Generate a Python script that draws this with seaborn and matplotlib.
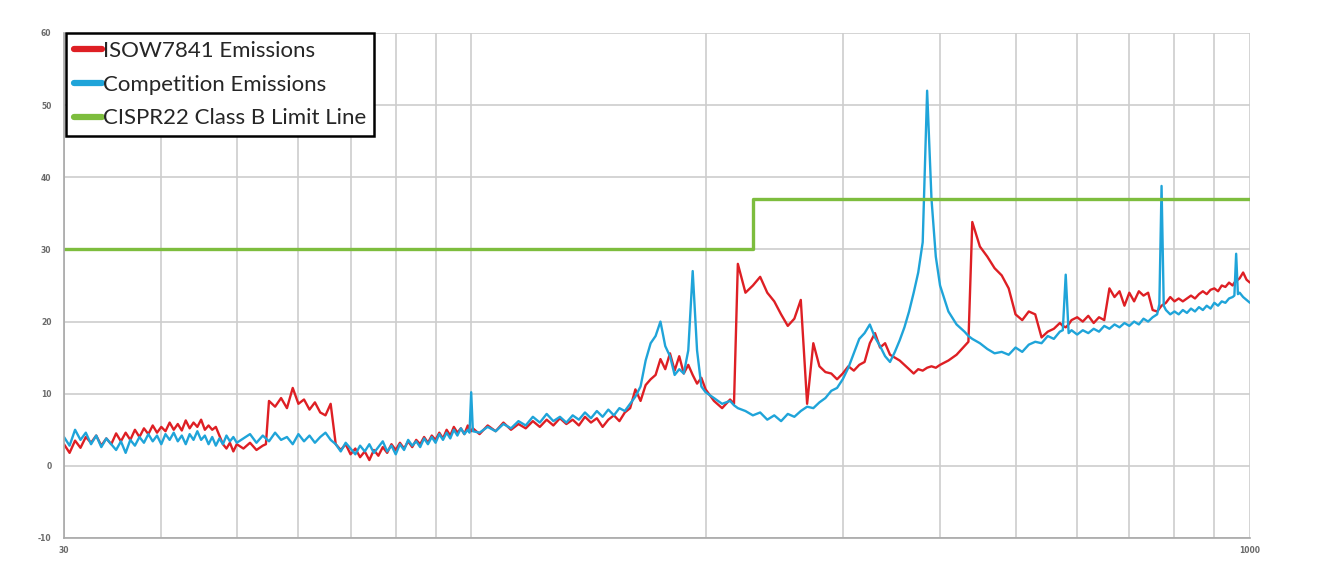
import pandas as pd
import matplotlib
matplotlib.use('Agg')
import matplotlib.pyplot as plt
import seaborn as sns
from matplotlib.ticker import FixedLocator, NullLocator

# --- Data (frequency in MHz, level in dB) ---
FREQ_MHZ = [
    30, 30.5, 31, 31.5, 32, 32.5, 33, 33.5, 34, 34.5, 35, 35.5, 36, 36.5, 37, 37.5,
    38, 38.5, 39, 39.5, 40, 40.5, 41, 41.5, 42, 42.5, 43, 43.5, 44, 44.5, 45, 45.5,
    46, 46.5, 47, 47.5, 48, 48.5, 49, 49.5, 50,
    51, 52, 53, 54, 54.5, 55, 56, 57, 58, 59, 60, 61, 62, 63, 64, 65, 66, 67, 68, 69,
    70, 71, 72, 73, 74, 75, 76, 77, 78, 79, 80, 81, 82, 83, 84, 85, 86, 87, 88, 89,
    90, 91, 92, 93, 94, 95, 96, 97, 98, 99, 99.5, 100, 100.5,
    102.5, 105, 107.5, 110, 112.5, 115, 117.5, 120, 122.5, 125, 127.5, 130, 132.5,
    135, 137.5, 140, 142.5, 145, 147.5, 150, 152.5, 155, 157.5, 160, 162.5, 165,
    167.5, 170, 172.5, 175, 177.5, 180, 182.5, 185, 187.5, 190, 192.5, 195, 197.5, 200,
    205, 210, 215, 217.5, 220, 225, 230, 235, 240, 245, 250, 255, 260, 265, 270, 275,
    280, 285, 290, 295, 300, 305, 310, 315, 320, 325, 330, 335, 340, 345, 350, 355,
    360, 365, 370, 375, 380, 385, 390, 395, 400,
    410, 420, 430, 435, 440, 450, 460, 470, 480, 490, 500, 510, 520, 530, 540, 550,
    560, 570, 575, 580, 585, 590, 600, 610, 620, 630, 640, 650, 660, 670, 680, 690,
    700, 710, 720, 730, 740, 750, 760, 765, 770, 775, 780, 790, 800, 810, 820, 830,
    840, 850, 860, 870, 880, 890, 900, 910, 920, 930, 940, 950, 955, 960, 965, 970,
    980, 990, 1000,
]

ISOW_DB = [
    3.0, 1.8, 3.5, 2.5, 4.0, 3.2, 4.2, 2.8, 3.8, 3.0, 4.5, 3.4, 4.6, 3.6, 5.0, 4.0,
    5.2, 4.4, 5.6, 4.6, 5.4, 4.8, 6.0, 5.0, 5.8, 4.9, 6.3, 5.2, 6.0, 5.4, 6.4, 5.0,
    5.6, 5.0, 5.4, 4.2, 3.0, 2.4, 3.2, 2.0, 3.0,
    2.4, 3.2, 2.2, 2.8, 3.0, 9.0, 8.2, 9.4, 8.0, 10.8, 8.6, 9.2, 7.8, 8.8, 7.4, 7.0,
    8.6, 3.0, 2.2, 3.0, 1.6, 2.4, 1.2, 2.0, 0.8, 2.2, 1.4, 2.6, 1.8, 3.0, 2.2, 3.2,
    2.4, 3.4, 2.6, 3.6, 3.0, 4.0, 3.2, 4.2, 3.6, 4.6, 3.8, 5.0, 4.2, 5.4, 4.6, 5.2,
    4.4, 5.6, 5.0, 4.8, 5.2,
    4.4, 5.6, 4.8, 6.0, 5.0, 5.8, 5.2, 6.2, 5.4, 6.4, 5.6, 6.6, 5.8, 6.4, 5.6, 6.8,
    6.0, 6.6, 5.4, 6.4, 7.0, 6.2, 7.4, 8.0, 10.6, 9.0, 11.2, 12.0, 12.6, 14.8, 13.4,
    15.6, 13.2, 15.2, 12.8, 14.0, 12.6, 11.4, 12.2, 10.6,
    9.0, 8.0, 9.2, 8.6, 28.0, 24.0, 25.0, 26.2, 24.0, 22.8, 21.0, 19.4, 20.4, 23.0,
    8.6, 17.0, 13.8, 13.0, 12.8, 12.0, 12.8, 13.8, 13.2, 14.0, 14.4, 17.0, 18.4, 16.4,
    17.0, 15.4, 15.0, 14.6, 14.0, 13.4, 12.8, 13.4, 13.2, 13.6, 13.8, 13.6, 14.0,
    14.6, 15.4, 16.6, 17.2, 33.8, 30.4, 29.0, 27.4, 26.4, 24.6, 21.0, 20.2, 21.4, 21.0,
    17.8, 18.6, 19.0, 19.8, 19.4, 19.2, 19.6, 20.2, 20.6, 20.0, 20.8, 19.8, 20.6, 20.2,
    24.6, 23.4, 24.2, 22.2, 24.0, 22.8, 24.2, 23.6, 24.0, 21.6, 21.4, 21.8, 22.2, 22.4,
    22.6, 23.4, 22.8, 23.2, 22.8, 23.2, 23.6, 23.2, 23.8, 24.2, 23.8, 24.4, 24.6, 24.2,
    25.0, 24.8, 25.4, 25.0, 25.4, 25.6, 25.8, 26.0, 26.8, 25.8, 25.4,
]

COMP_DB = [
    4.0, 2.8, 5.0, 3.6, 4.6, 3.0, 4.2, 2.6, 3.8, 3.0, 2.2, 3.4, 1.8, 3.6, 2.8, 4.0,
    3.2, 4.4, 3.4, 4.2, 3.0, 4.4, 3.6, 4.6, 3.4, 4.2, 3.0, 4.4, 3.6, 4.8, 3.6, 4.2,
    3.0, 4.0, 2.8, 3.8, 3.0, 4.2, 3.4, 4.0, 3.2,
    3.8, 4.4, 3.2, 4.2, 3.8, 3.4, 4.6, 3.6, 4.0, 3.0, 4.4, 3.4, 4.2, 3.2, 4.0, 4.6,
    3.6, 3.0, 2.0, 3.2, 2.4, 1.6, 2.8, 2.0, 3.0, 1.8, 2.6, 3.4, 2.0, 2.8, 1.6, 3.0,
    2.2, 3.6, 2.8, 3.4, 2.6, 3.8, 3.0, 4.0, 3.2, 4.4, 3.6, 4.6, 3.8, 5.0, 4.2, 5.2,
    4.4, 5.0, 4.6, 10.2, 4.8,
    4.6, 5.4, 4.8, 5.8, 5.2, 6.2, 5.6, 6.8, 6.0, 7.2, 6.2, 6.8, 6.0, 7.0, 6.4, 7.4,
    6.6, 7.6, 6.8, 7.8, 7.0, 8.0, 7.6, 8.6, 9.6, 11.0, 14.6, 17.0, 18.0, 20.0, 16.6,
    15.2, 12.6, 13.4, 12.8, 16.0, 27.0, 16.0, 11.0, 10.2,
    9.4, 8.6, 9.0, 8.4, 8.0, 7.6, 7.0, 7.4, 6.4, 7.0, 6.2, 7.2, 6.8, 7.6, 8.2, 8.0,
    8.8, 9.4, 10.4, 10.8, 12.0, 13.6, 15.6, 17.6, 18.4, 19.6, 17.8, 16.6, 15.2, 14.4,
    15.8, 17.4, 19.2, 21.4, 24.0, 26.8, 31.0, 52.0, 37.0, 29.0, 25.0,
    21.4, 19.6, 18.6, 18.0, 17.6, 17.0, 16.2, 15.6, 15.8, 15.4, 16.4, 15.8, 16.8, 17.2,
    17.0, 18.0, 17.6, 18.6, 18.8, 26.5, 18.4, 18.8, 18.2, 18.8, 18.4, 19.0, 18.6, 19.4,
    19.0, 19.6, 19.2, 19.8, 19.4, 20.0, 19.6, 20.4, 20.0, 20.6, 21.0, 22.4, 38.8, 22.2,
    21.6, 21.0, 21.4, 21.0, 21.6, 21.2, 21.8, 21.4, 22.0, 21.6, 22.2, 21.8, 22.6, 22.2,
    22.8, 22.6, 23.2, 23.4, 23.6, 29.4, 23.8, 24.0, 23.4, 23.0, 22.6,
]

LIMIT_FREQ = [30, 230, 230, 1000]
LIMIT_DB = [30, 30, 37, 37]

Y_TICKS = [-10, 0, 10, 20, 30, 40, 50, 60]
X_GRID = [30, 40, 50, 60, 70, 80, 90, 100, 200, 300, 400, 500, 600, 700, 800, 900, 1000]
X_LABELS = ['30', '', '', '', '', '', '', '', '', '', '', '', '', '', '', '', '1000']

SERIES_NAMES = ['ISOW7841 Emissions', 'Competition Emissions', 'CISPR22 Class B Limit Line']
RED = '#de1f24'
BLUE = '#1fa4d9'
GREEN = '#7dbd3e'

sns.set_style('white')
plt.rcParams['font.family'] = ['Lato', 'DejaVu Sans']
plt.rcParams['axes.unicode_minus'] = False

fig = plt.figure(figsize=(13.33, 5.64), dpi=100)
ax = fig.add_axes([0.048, 0.0461, 0.8897, 0.8954])

sns.lineplot(x=FREQ_MHZ, y=ISOW_DB, color=RED, lw=1.7, ax=ax,
             label=SERIES_NAMES[0], estimator=None, sort=False)
sns.lineplot(x=FREQ_MHZ, y=COMP_DB, color=BLUE, lw=1.7, ax=ax,
             label=SERIES_NAMES[1], estimator=None, sort=False)
sns.lineplot(x=LIMIT_FREQ, y=LIMIT_DB, color=GREEN, lw=2.4, ax=ax,
             label=SERIES_NAMES[2], estimator=None, sort=False)

ax.set_xscale('log')
ax.set_xlim(30, 1000)
ax.set_ylim(-10, 60)
ax.xaxis.set_major_locator(FixedLocator(X_GRID))
ax.xaxis.set_minor_locator(NullLocator())
ax.set_xticklabels(X_LABELS)
ax.set_yticks(Y_TICKS)
ax.set_xlabel('')
ax.set_ylabel('')

ax.grid(True, color='#cdcdcd', lw=1.2)
ax.set_axisbelow(True)
for side in ['top', 'right']:
    ax.spines[side].set_visible(False)
for side in ['left', 'bottom']:
    ax.spines[side].set_color('#a8a8a8')
    ax.spines[side].set_linewidth(1.2)

ax.tick_params(axis='both', labelsize=5.5, labelcolor='#6a6a6a', colors='#a8a8a8')
ax.tick_params(axis='y', length=6, pad=3)
ax.tick_params(axis='x', length=3, pad=3)
for lbl in ax.get_xticklabels() + ax.get_yticklabels():
    lbl.set_fontweight('bold')
    lbl.set_family('DejaVu Sans')

leg = ax.legend(loc='upper left', bbox_to_anchor=(0.0017, 1.0), fontsize=16,
                frameon=True, fancybox=False, framealpha=1, edgecolor='black',
                borderpad=0.35, labelspacing=0.62, handlelength=1.25,
                handletextpad=0.05, borderaxespad=0)
leg.get_frame().set_linewidth(1.8)
for h in leg.legend_handles:
    h.set_linewidth(4.5)

plt.savefig('out.png', dpi=100, facecolor='white')
